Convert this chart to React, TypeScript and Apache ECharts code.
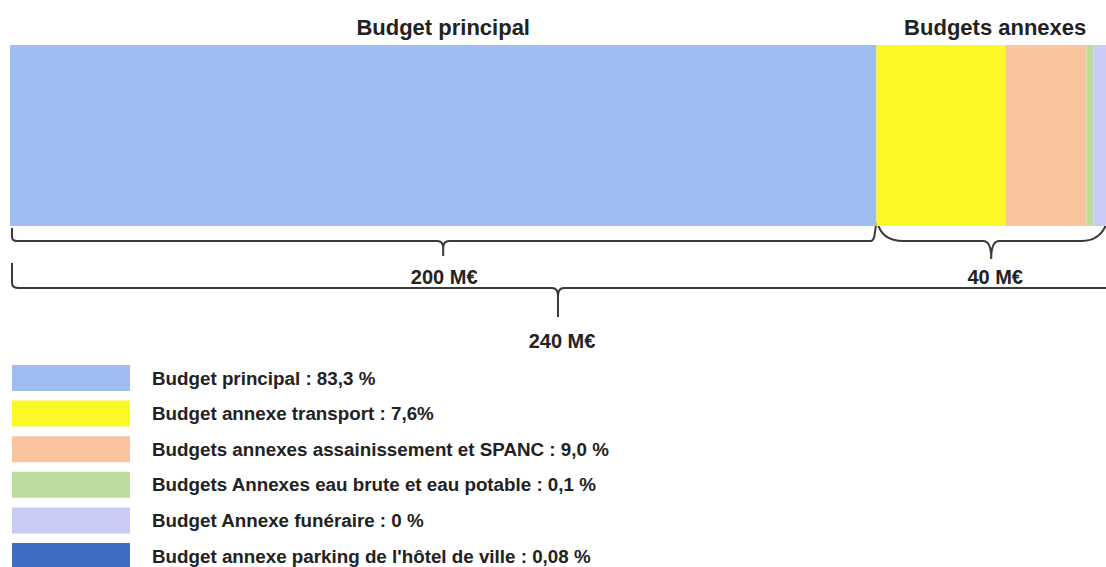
import React, { useEffect, useRef } from "react";
import * as echarts from "echarts";

const categories = ["Budgets"];
const seriesNames = [
  "Budget principal",
  "Budget annexe transport",
  "Budgets annexes assainissement et SPANC",
  "Budgets Annexes eau brute et eau potable",
  "Budget Annexe funéraire",
  "Budget annexe parking de l'hôtel de ville",
];
const shareLabels = ["83,3 %", "7,6%", "9,0 %", "0,1 %", "0 %", "0,08 %"];
// amounts in M€ (right side of the picture is cropped)
const amounts = [200, 29.8, 18.7, 1.6, 5.0, 0.3];
const colors = ["#9fbdf0", "#fbf826", "#f8c39d", "#bddc9f", "#c8cbf4", "#3d6cc0"];
const groupTitles = ["Budget principal", "Budgets annexes"];
const braceLabels = ["200 M€", "40 M€", "240 M€"];
const axisMin = 0;
const axisMax = 253;

export default function App() {
  const ref = useRef<HTMLDivElement>(null);
  useEffect(() => {
    if (!ref.current) return;
    const chart = echarts.init(ref.current, null, { renderer: "svg" });
    const shareMap: Record<string, string> = {};
    seriesNames.forEach((n, i) => (shareMap[n] = shareLabels[i]));
    chart.setOption({
      animation: false,
      grid: { left: 10, right: 0, top: 45, height: 181, containLabel: false },
      xAxis: { type: "value", min: axisMin, max: axisMax, show: false },
      yAxis: { type: "category", data: categories, show: false },
      legend: {
        orient: "vertical",
        left: 7,
        top: 360,
        width: 1000,
        height: 260,
        itemWidth: 118,
        itemHeight: 26,
        itemGap: 9.6,
        icon: "rect",
        selectedMode: false,
        data: seriesNames,
        formatter: (name: string) => `${name} : ${shareMap[name]}`,
        textStyle: {
          fontFamily: "Liberation Sans",
          fontWeight: "bold",
          fontSize: 18.8,
          color: "#222",
          padding: [0, 0, 0, 17],
        },
      },
      series: seriesNames.map((name, i) => ({
        name,
        type: "bar",
        stack: "total",
        barWidth: "100%",
        silent: true,
        itemStyle: { color: colors[i] },
        data: [amounts[i]],
      })),
    });

    const px = (v: number) => chart.convertToPixel({ xAxisIndex: 0 }, v) as number;
    const x0 = px(0);
    const x1 = px(amounts[0]);
    const x2 = px(axisMax);
    const m1 = (x0 + x1) / 2;
    const m2 = (x1 + x2) / 2;
    const m3 = (x0 + x2) / 2;
    const xl = x0 + 2;

    const d1 = `M${xl},228 L${xl},237 Q${xl},241 ${xl + 5},241 L${m1 - 6},241 Q${m1},241 ${m1},248 L${m1},256 M${m1},248 Q${m1},241 ${m1 + 6},241 L${x1 - 6},241 Q${x1 - 3},241 ${x1 - 2},236 L${x1},222`;
    const d2 = `M${x1 + 1},222 Q${x1 + 5},241 ${x1 + 27},241 L${m2 - 8},241 Q${m2},241 ${m2},259 M${m2},259 Q${m2},241 ${m2 + 8},241 L${x2 - 25},241 Q${x2 - 3},241 ${x2 + 2},218`;
    const d3 = `M${xl},263 L${xl},283 Q${xl},288 ${xl + 7},288 L${m3 - 6},288 Q${m3},288 ${m3},296 L${m3},317 M${m3},296 Q${m3},288 ${m3 + 6},288 L${x2 + 5},288`;
    echarts.graphic.registerShape("brace1", echarts.graphic.extendPath(d1, {}));
    echarts.graphic.registerShape("brace2", echarts.graphic.extendPath(d2, {}));
    echarts.graphic.registerShape("brace3", echarts.graphic.extendPath(d3, {}));

    const braceStyle = { stroke: "#3a3a3a", lineWidth: 2, fill: "none" };
    const txt = (text: string, x: number, y: number, size: number) => ({
      type: "text",
      x,
      y,
      silent: true,
      style: {
        text,
        fontFamily: "Liberation Sans",
        fontWeight: "bold",
        fontSize: size,
        fill: "#222",
        align: "center",
        verticalAlign: "middle",
      },
    });
    chart.setOption({
      graphic: [
        { type: "brace1", x: 0, y: 0, scaleX: 1, scaleY: 1, silent: true, style: braceStyle },
        { type: "brace2", x: 0, y: 0, scaleX: 1, scaleY: 1, silent: true, style: braceStyle },
        { type: "brace3", x: 0, y: 0, scaleX: 1, scaleY: 1, silent: true, style: braceStyle },
        txt(groupTitles[0], m1, 27, 22),
        txt(groupTitles[1], m2 + 4, 27, 22),
        txt(braceLabels[0], m1 + 1, 277, 20),
        txt(braceLabels[1], m2 + 4, 277, 20),
        txt(braceLabels[2], m3 + 4, 341, 20),
      ],
    });
    return () => chart.dispose();
  }, []);
  return (
    <div
      ref={ref}
      style={{ position: "fixed", left: 0, top: 0, width: 1106, height: 567, background: "#fff" }}
    />
  );
}
